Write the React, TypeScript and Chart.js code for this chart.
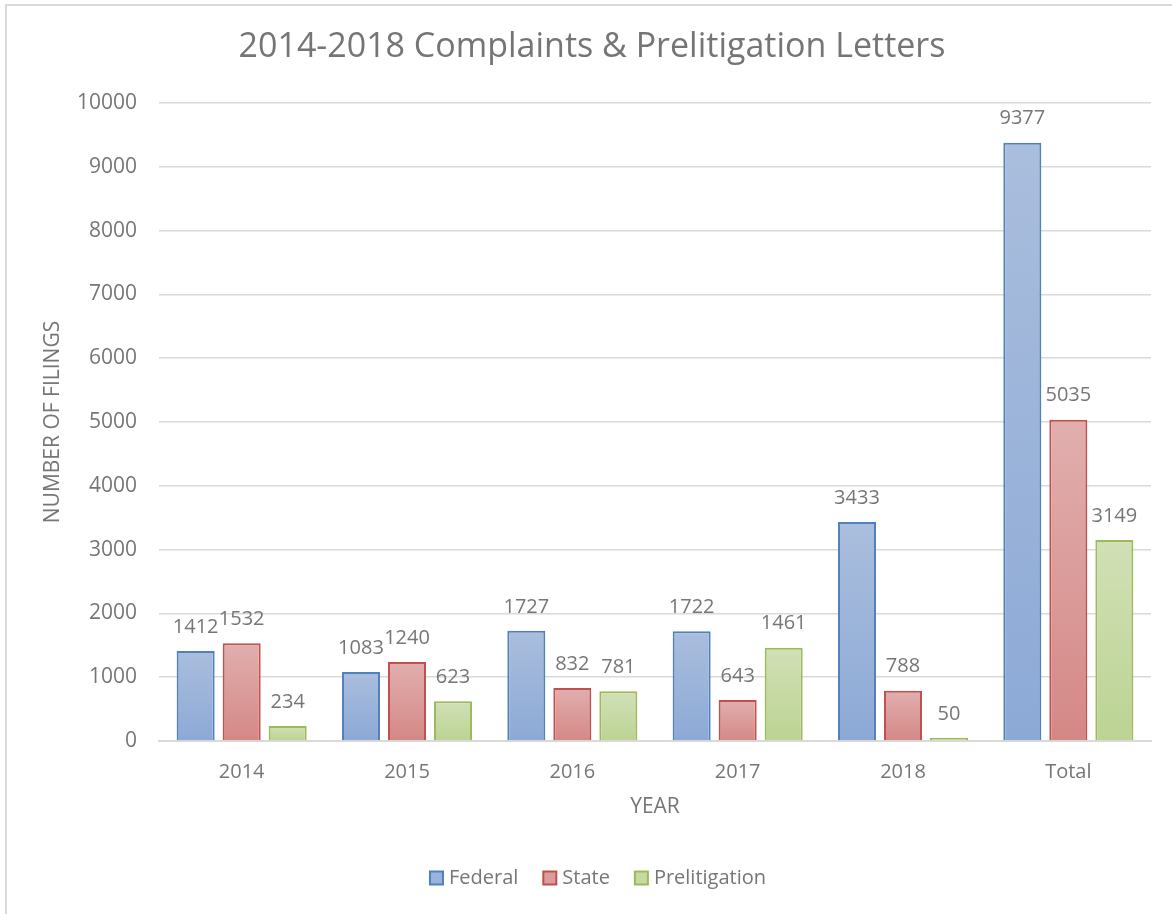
import React, { useEffect, useRef } from "react";
import { Chart, registerables } from "chart.js";
Chart.register(...registerables);

const categories = ["2014", "2015", "2016", "2017", "2018", "Total"];
const federal = [1412, 1083, 1727, 1722, 3433, 9377];
const state = [1532, 1240, 832, 643, 788, 5035];
const prelitigation = [234, 623, 781, 1461, 50, 3149];
const seriesNames = ["Federal", "State", "Prelitigation"];
const chartTitle = "2014-2018 Complaints & Prelitigation Letters";
const yMin = 0;
const yMax = 10000;
const yStep = 1000;

const FONT = '"Open Sans", "Noto Sans", sans-serif';
const TEXT = "#767676";
const borders = ["#4f81bd", "#c0504d", "#9bbb59"];
const tops = ["#aabedd", "#e1afae", "#d2e0b6"];
const bottoms = ["#8ca9d6", "#d48886", "#bbd393"];
const mids = ["#9bb3da", "#dc9c9b", "#c6daa4"];

const grad = (i: number) => (ctx: any) => {
  const chart = ctx.chart;
  const y = chart.scales && chart.scales.y;
  if (!y || ctx.type !== "data" || !chart.chartArea) return mids[i];
  const v = ctx.raw as number;
  const y0 = y.getPixelForValue(v);
  const y1 = y.getPixelForValue(0);
  if (!isFinite(y0) || !isFinite(y1) || Math.abs(y1 - y0) < 1) return tops[i];
  const g = chart.ctx.createLinearGradient(0, y0, 0, y1);
  g.addColorStop(0, tops[i]);
  g.addColorStop(1, bottoms[i]);
  return g;
};

const dataLabels = {
  id: "dataLabels",
  afterDatasetsDraw(chart: any) {
    const c = chart.ctx;
    c.save();
    c.font = `20px ${FONT}`;
    c.fillStyle = TEXT;
    c.textAlign = "center";
    c.textBaseline = "middle";
    chart.data.datasets.forEach((ds: any, di: number) => {
      const meta = chart.getDatasetMeta(di);
      meta.data.forEach((el: any, i: number) => {
        c.fillText(String(ds.data[i]), el.x, el.y - 24);
      });
    });
    c.restore();
  },
};

const customTitle = {
  id: "customTitle",
  afterDraw(chart: any) {
    const c = chart.ctx;
    c.save();
    c.font = `34px ${FONT}`;
    c.fillStyle = "#757575";
    c.textAlign = "center";
    c.textBaseline = "middle";
    c.fillText(chartTitle, 592, 47);
    c.restore();
  },
};

const customLegend = {
  id: "customLegend",
  afterDraw(chart: any) {
    const c = chart.ctx;
    c.save();
    c.font = `20px ${FONT}`;
    c.textBaseline = "middle";
    c.textAlign = "left";
    const box = 13;
    const gapText = 6;
    const gapItem = 25;
    const items = chart.data.datasets.map((ds: any, i: number) => ({
      text: ds.label,
      i,
      w: box + gapText + c.measureText(ds.label).width,
    }));
    const total = items.reduce((s: number, it: any) => s + it.w, 0) + gapItem * (items.length - 1);
    let x = 598 - total / 2;
    const cy = 878;
    items.forEach((it: any) => {
      c.fillStyle = mids[it.i];
      c.fillRect(x, cy - box / 2, box, box);
      c.strokeStyle = borders[it.i];
      c.lineWidth = 2;
      c.strokeRect(x, cy - box / 2, box, box);
      c.fillStyle = TEXT;
      c.fillText(it.text, x + box + gapText, cy);
      x += it.w + gapItem;
    });
    c.restore();
  },
};

export default function App() {
  const ref = useRef<HTMLCanvasElement>(null);
  useEffect(() => {
    if (!ref.current) return;
    Chart.defaults.font.family = FONT;
    const values = [federal, state, prelitigation];
    const chart = new Chart(ref.current, {
      type: "bar",
      data: {
        labels: categories,
        datasets: values.map((d, i) => ({
          label: seriesNames[i],
          data: d,
          backgroundColor: grad(i),
          borderColor: borders[i],
          borderWidth: 2,
          categoryPercentage: 0.835,
          barPercentage: 0.826,
        })),
      },
      options: {
        animation: false,
        responsive: true,
        maintainAspectRatio: false,
        layout: { padding: { left: 0, right: 21, top: 103, bottom: 68 } },
        plugins: {
          title: { display: false },
          legend: { display: false },
          tooltip: { enabled: false },
        },
        scales: {
          x: {
            grid: { display: false, drawTicks: false },
            border: { color: "#d9d9d9", width: 2 },
            ticks: { color: TEXT, font: { size: 20 }, padding: 19 },
            title: {
              display: true,
              text: "YEAR",
              color: TEXT,
              font: { size: 21 },
              padding: { top: 0, bottom: 26 },
            },
            afterFit: (s: any) => {
              s.height = 105;
            },
          },
          y: {
            min: yMin,
            max: yMax,
            ticks: {
              stepSize: yStep,
              color: TEXT,
              font: { size: 21 },
              padding: 22,
              callback: (v: any) => String(v),
            },
            grid: { color: "#d9d9d9", lineWidth: 1.5, drawTicks: false },
            border: { display: false },
            title: {
              display: true,
              text: "NUMBER OF FILINGS",
              color: TEXT,
              font: { size: 21 },
              padding: { top: 40, bottom: 0 },
            },
            afterFit: (s: any) => {
              s.width = 159;
            },
          },
        },
      },
      plugins: [dataLabels, customTitle, customLegend],
    });
    return () => chart.destroy();
  }, []);
  return (
    <div style={{ position: "fixed", left: 0, top: 0, width: 1172, height: 914, background: "#fff" }}>
      <div
        style={{
          position: "absolute",
          left: 5,
          top: 4,
          width: 1200,
          height: 950,
          borderLeft: "2px solid #d9d9d9",
          borderTop: "2px solid #d9d9d9",
        }}
      />
      <canvas ref={ref} style={{ position: "absolute", left: 0, top: 0 }} />
    </div>
  );
}
